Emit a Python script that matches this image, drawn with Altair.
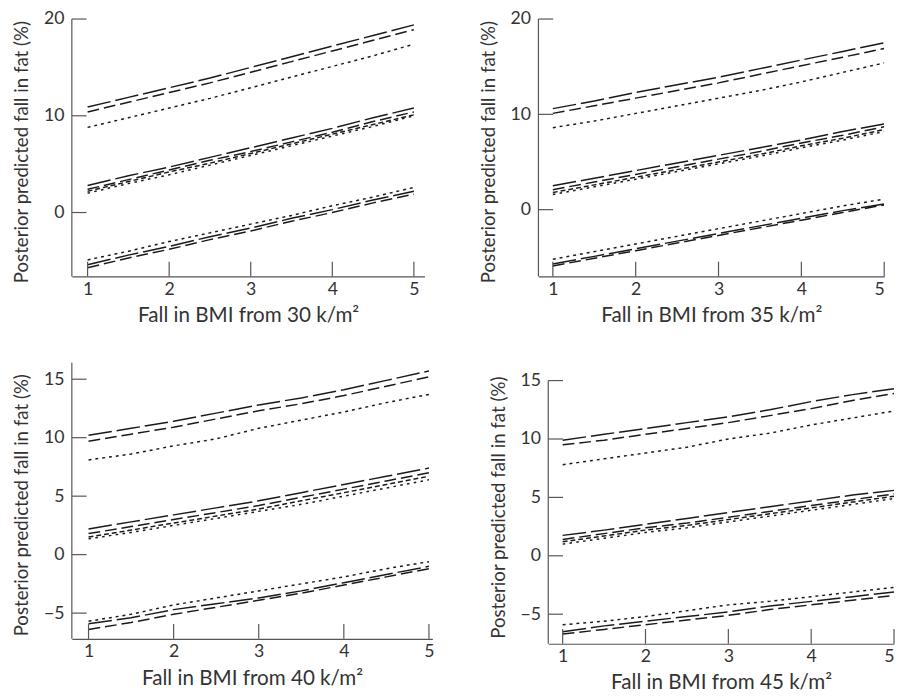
import altair as alt
import pandas as pd

XS = [1, 1.5, 2, 2.5, 3, 3.5, 4, 4.5, 5]

STYLES = ["long", "med", "short", "dot", "heavy"]
DASHES = [[24, 5], [12, 5], [5, 3], [3, 4], [2.6, 4.4]]
WIDTHS = [1.5, 1.5, 1.5, 1.4, 2.8]

# line id -> style
LINE_STYLE = {
    "hi_long": "long", "hi_med": "med", "hi_dot": "dot",
    "mid_long": "long", "mid_med": "med", "mid_short": "short", "mid_heavy": "heavy",
    "lo_dot": "dot", "lo_long": "long", "lo_med": "med",
}

P30 = {
    "hi_long":   [10.9, 11.9, 12.9, 13.9, 15.0, 16.1, 17.2, 18.3, 19.4],
    "hi_med":    [10.4, 11.4, 12.4, 13.4, 14.5, 15.6, 16.7, 17.8, 18.9],
    "hi_dot":    [8.8, 9.8, 10.8, 11.8, 12.9, 14.0, 15.1, 16.2, 17.4],
    "mid_long":  [2.8, 3.8, 4.7, 5.7, 6.7, 7.7, 8.7, 9.8, 10.8],
    "mid_med":   [2.4, 3.4, 4.4, 5.4, 6.3, 7.3, 8.3, 9.4, 10.4],
    "mid_short": [2.2, 3.2, 4.2, 5.1, 6.1, 7.1, 8.1, 9.1, 10.1],
    "mid_heavy": [2.0, 3.0, 3.9, 4.9, 5.9, 6.9, 7.9, 8.9, 10.0],
    "lo_dot":    [-4.9, -4.0, -3.0, -2.1, -1.2, -0.3, 0.7, 1.6, 2.6],
    "lo_long":   [-5.4, -4.4, -3.5, -2.5, -1.6, -0.6, 0.3, 1.3, 2.2],
    "lo_med":    [-5.7, -4.7, -3.8, -2.8, -1.9, -0.9, 0.0, 1.0, 1.9],
}
P35 = {
    "hi_long":   [10.6, 11.4, 12.3, 13.1, 13.9, 14.8, 15.7, 16.6, 17.5],
    "hi_med":    [10.1, 10.9, 11.7, 12.5, 13.3, 14.2, 15.1, 16.0, 16.9],
    "hi_dot":    [8.6, 9.3, 10.1, 10.9, 11.7, 12.5, 13.4, 14.4, 15.4],
    "mid_long":  [2.5, 3.3, 4.1, 4.9, 5.7, 6.5, 7.3, 8.2, 9.0],
    "mid_med":   [2.1, 2.9, 3.7, 4.5, 5.3, 6.1, 7.0, 7.8, 8.7],
    "mid_short": [1.8, 2.6, 3.4, 4.2, 5.0, 5.8, 6.7, 7.5, 8.4],
    "mid_heavy": [1.6, 2.4, 3.2, 4.0, 4.8, 5.6, 6.5, 7.3, 8.2],
    "lo_dot":    [-5.2, -4.4, -3.6, -2.8, -2.0, -1.2, -0.4, 0.4, 1.1],
    "lo_long":   [-5.7, -4.9, -4.1, -3.3, -2.5, -1.7, -0.9, -0.1, 0.6],
    "lo_med":    [-5.9, -5.1, -4.3, -3.5, -2.7, -1.9, -1.1, -0.3, 0.5],
}
P40 = {
    "hi_long":   [10.2, 10.8, 11.4, 12.1, 12.8, 13.4, 14.1, 14.9, 15.7],
    "hi_med":    [9.7, 10.3, 10.9, 11.6, 12.3, 12.9, 13.6, 14.4, 15.2],
    "hi_dot":    [8.1, 8.6, 9.3, 9.9, 10.8, 11.5, 12.2, 13.0, 13.7],
    "mid_long":  [2.2, 2.8, 3.4, 4.0, 4.6, 5.3, 6.0, 6.7, 7.4],
    "mid_med":   [1.8, 2.4, 3.0, 3.6, 4.2, 4.9, 5.6, 6.3, 7.0],
    "mid_short": [1.5, 2.1, 2.7, 3.3, 3.9, 4.6, 5.3, 6.0, 6.7],
    "mid_heavy": [1.35, 1.9, 2.5, 3.1, 3.7, 4.3, 5.0, 5.7, 6.4],
    "lo_dot":    [-5.7, -5.1, -4.3, -3.7, -3.1, -2.5, -1.9, -1.2, -0.6],
    "lo_long":   [-5.9, -5.4, -4.7, -4.2, -3.7, -3.1, -2.4, -1.7, -1.0],
    "lo_med":    [-6.4, -5.8, -5.1, -4.5, -3.9, -3.3, -2.6, -1.9, -1.2],
}
P45 = {
    "hi_long":   [9.9, 10.4, 10.9, 11.4, 11.9, 12.5, 13.2, 13.8, 14.3],
    "hi_med":    [9.5, 9.9, 10.4, 10.9, 11.4, 12.0, 12.6, 13.3, 13.9],
    "hi_dot":    [7.8, 8.3, 8.8, 9.3, 10.0, 10.5, 11.2, 11.8, 12.4],
    "mid_long":  [1.75, 2.2, 2.7, 3.2, 3.7, 4.2, 4.7, 5.2, 5.6],
    "mid_med":   [1.4, 1.9, 2.4, 2.8, 3.3, 3.8, 4.3, 4.8, 5.3],
    "mid_short": [1.2, 1.7, 2.2, 2.6, 3.1, 3.6, 4.1, 4.6, 5.1],
    "mid_heavy": [1.0, 1.5, 2.0, 2.4, 2.9, 3.4, 3.9, 4.4, 4.9],
    "lo_dot":    [-5.9, -5.6, -5.2, -4.7, -4.2, -3.9, -3.5, -3.1, -2.7],
    "lo_long":   [-6.5, -6.0, -5.6, -5.2, -4.8, -4.3, -3.9, -3.5, -3.1],
    "lo_med":    [-6.7, -6.3, -5.9, -5.5, -5.1, -4.6, -4.2, -3.8, -3.4],
}

X_TICKS = [1, 2, 3, 4, 5]
Y_TICKS_A = [0, 10, 20]
Y_TICKS_B = [-5, 0, 5, 10, 15]

Y_TITLE = "Posterior predicted fall in fat (%)"

TEXT = "#333333"
AXIS = "#555555"
INK = "#1a1a1a"
FONT = "Lato"


def panel(values, bmi, xdom, ydom, ytop, yticks, w, h, flush):
    rows = []
    for name, ys in values.items():
        for x, y in zip(XS, ys):
            rows.append({"x": x, "y": y, "line": name, "style": LINE_STYLE[name]})
    df = pd.DataFrame(rows)
    xs = alt.Scale(domain=xdom, nice=False, zero=False)
    ysc = alt.Scale(domain=ydom, nice=False, zero=False)
    xaxis = alt.Axis(
        values=X_TICKS, ticks=False, grid=False, domain=True, domainColor=AXIS,
        domainWidth=1.2, labelPadding=4, labelFlush=flush,
        title=f"Fall in BMI from {bmi} k/m²", titlePadding=7, titleFontSize=21)
    yaxis = alt.Axis(
        values=yticks, ticks=False, grid=False, domain=False, labelPadding=8,
        title=Y_TITLE, titlePadding=12, titleFontSize=19, titleY=h / 2 + 4)
    lines = alt.Chart(df).mark_line(color=INK, strokeCap="butt", clip=True).encode(
        x=alt.X("x:Q", scale=xs, axis=xaxis),
        y=alt.Y("y:Q", scale=ysc, axis=yaxis),
        detail="line:N",
        strokeDash=alt.StrokeDash("style:N", scale=alt.Scale(domain=STYLES, range=DASHES), legend=None),
        strokeWidth=alt.StrokeWidth("style:N", scale=alt.Scale(domain=STYLES, range=WIDTHS), legend=None),
    )
    ytk = alt.Chart(pd.DataFrame({"y": yticks})).mark_rule(color=AXIS, strokeWidth=1.2).encode(
        y=alt.Y("y:Q", scale=ysc, axis=yaxis), x=alt.value(0), x2=alt.value(15))
    xtk = alt.Chart(pd.DataFrame({"x": X_TICKS})).mark_rule(color=AXIS, strokeWidth=1.2).encode(
        x=alt.X("x:Q", scale=xs, axis=xaxis), y=alt.value(h), y2=alt.value(h - 15))
    yax = alt.Chart(pd.DataFrame({"y": [ydom[0]], "b": [ytop]})).mark_rule(color=AXIS, strokeWidth=1.2).encode(
        y=alt.Y("y:Q", scale=ysc, axis=yaxis), y2="b:Q", x=alt.value(0))
    return alt.layer(lines, ytk, xtk, yax).properties(width=w, height=h)


p1 = panel(P30, 30, [0.807, 5.13], [-6.6, 20], 20, Y_TICKS_A, 359, 262, False)
p2 = panel(P35, 35, [0.826, 5.0], [-7.0, 20], 20, Y_TICKS_A, 352, 262, 1)
p3 = panel(P40, 40, [0.804, 5.04], [-7.2, 16.4], 16.4, Y_TICKS_B, 367, 281, False)
p4 = panel(P45, 45, [0.826, 5.0], [-7.53, 16.52], 15, Y_TICKS_B, 352, 286, 1)

chart = alt.vconcat(
    alt.hconcat(p1, p2, spacing=56),
    alt.hconcat(p3, p4, spacing=56),
    spacing=37,
).properties(padding={"left": 5, "top": -4, "right": 0, "bottom": 0}).configure_view(stroke=None).configure_axis(
    labelFont=FONT, titleFont=FONT, labelFontSize=18,
    labelColor=TEXT, titleColor=TEXT, titleFontWeight="normal",
)

chart.save("out.html", embed_options={"renderer": "svg", "actions": False})
